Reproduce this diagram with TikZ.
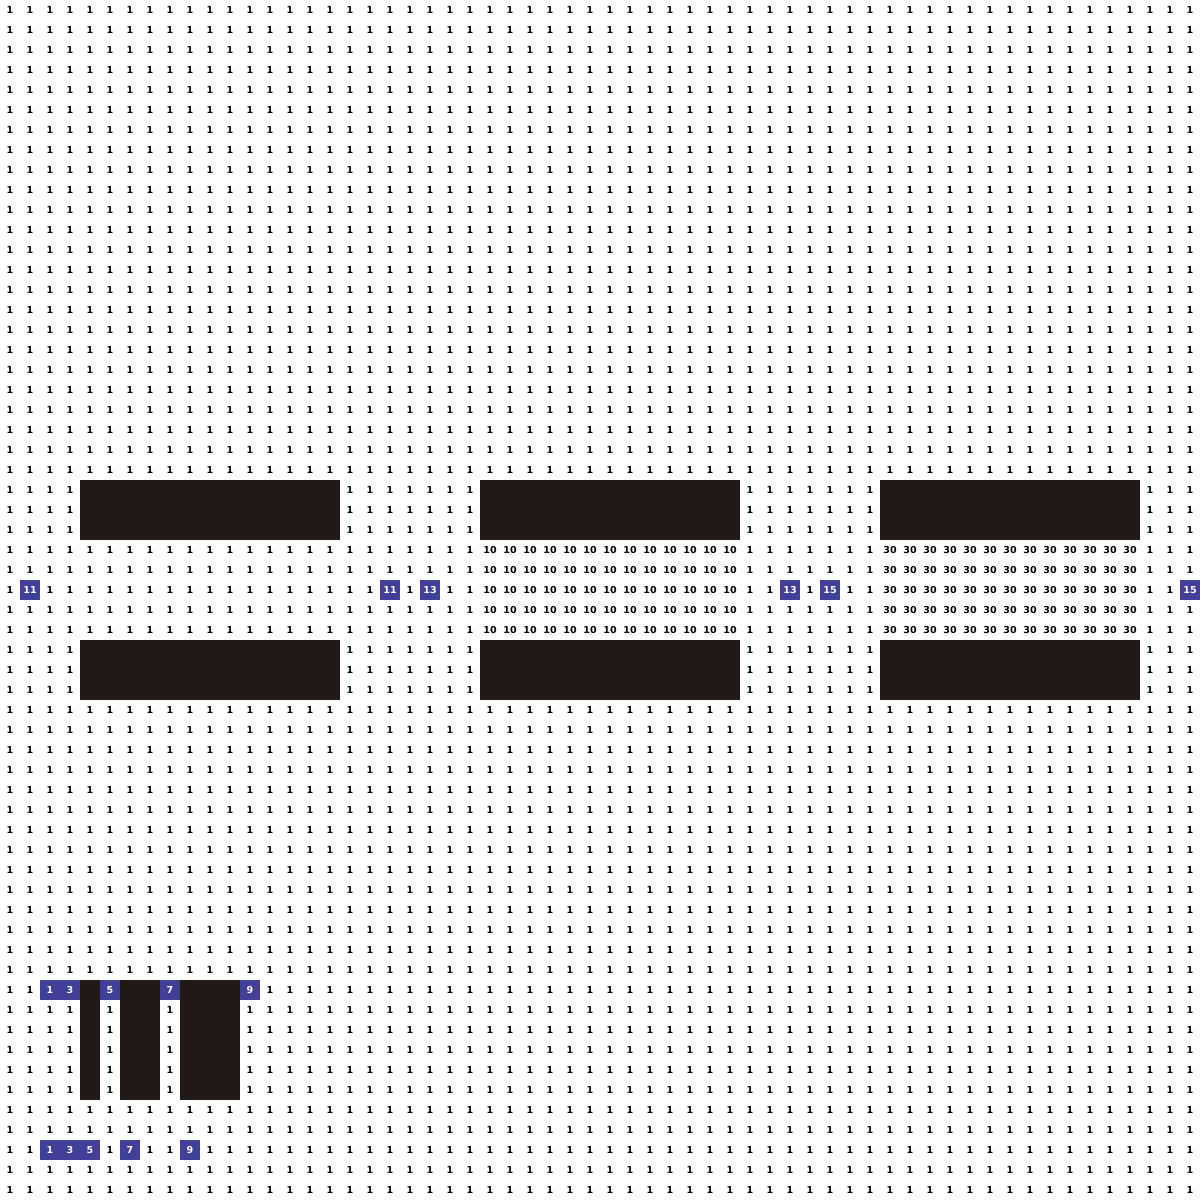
\documentclass[tikz,border=0pt]{standalone}
\usepackage{fontspec}
\newfontfamily\cellfont{DejaVu Sans}
\definecolor{blk}{RGB}{35,26,24}
\definecolor{blu}{RGB}{64,64,152}
\tikzset{
  cell/.style={inner sep=0pt, anchor=center, font=\cellfont\bfseries\fontsize{6.8}{7}\selectfont, text=black},
  bcell/.style={cell, text=white},
  blockfill/.style={fill=blk, draw=none},
  bluefill/.style={fill=blu, draw=none}
}
\begin{document}
\begin{tikzpicture}[x=0.5cm,y=-0.5cm]
\useasboundingbox (0,0) rectangle (60,60);
\fill[white] (0,0) rectangle (60,60);
% base grid of 1s
\foreach \r in {0,...,59}{
  \foreach \c in {0,...,59}{
    \node[cell] at (\c+0.5,\r+0.5) {1};
  }
}
% 10 and 30 regions
\fill[white] (24,27) rectangle (37,32);
\fill[white] (44,27) rectangle (57,32);
\foreach \r in {27,...,31}{
  \foreach \c in {24,...,36}{ \node[cell] at (\c+0.5,\r+0.5) {10}; }
  \foreach \c in {44,...,56}{ \node[cell] at (\c+0.5,\r+0.5) {30}; }
}
% black blocks
\foreach \x in {4,24,44}{
  \fill[blockfill] (\x,24) rectangle ++(13,3);
  \fill[blockfill] (\x,32) rectangle ++(13,3);
}
\fill[blockfill] (4,49) rectangle (5,55);
\fill[blockfill] (6,49) rectangle (8,55);
\fill[blockfill] (9,49) rectangle (12,55);
% blue cells
\foreach \c/\r/\t in {1/29/11,19/29/11,21/29/13,39/29/13,41/29/15,59/29/15,
  2/49/1,3/49/3,5/49/5,8/49/7,12/49/9,
  2/57/1,3/57/3,4/57/5,6/57/7,9/57/9}{
  \fill[bluefill] (\c,\r) rectangle ++(1,1);
  \node[bcell] at (\c+0.5,\r+0.5) {\t};
}
\end{tikzpicture}
\end{document}
